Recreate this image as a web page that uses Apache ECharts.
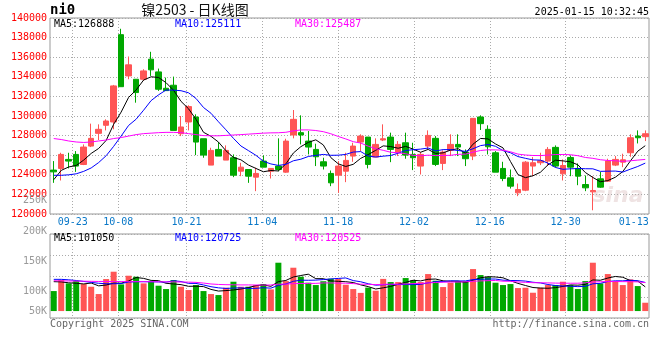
<!DOCTYPE html>
<html><head><meta charset="utf-8">
<script src="https://cdn.jsdelivr.net/npm/echarts@6/dist/echarts.min.js"></script>
<style>html,body{margin:0;padding:0;background:#fff}#c{width:660px;height:360px}</style>
</head><body><div id="c"></div>
<script>
// ---------- data ----------
const dates = ['09-18','09-19','09-20','09-23','09-24','09-25','09-26','09-27','09-30','10-08',
'10-09','10-10','10-11','10-14','10-15','10-16','10-17','10-18','10-21','10-22',
'10-23','10-24','10-25','10-28','10-29','10-30','10-31','11-01','11-04','11-05',
'11-06','11-07','11-08','11-11','11-12','11-13','11-14','11-15','11-18','11-19',
'11-20','11-21','11-22','11-25','11-26','11-27','11-28','11-29','12-02','12-03',
'12-04','12-05','12-06','12-09','12-10','12-11','12-12','12-13','12-16','12-17',
'12-18','12-19','12-20','12-23','12-24','12-25','12-26','12-27','12-30','12-31',
'01-02','01-03','01-06','01-07','01-08','01-09','01-10','01-13','01-14','01-15'];

const openP = [124480,124650,125570,126080,125050,126930,128230,129050,129390,138300,
134090,133750,133750,135800,134500,132830,133140,128190,129390,129900,
127680,124990,126590,125500,125740,124370,124540,123760,125400,124370,
124890,124270,128060,128300,127440,126590,125330,124140,123960,124370,
125910,127340,127850,125810,127550,127850,126250,127270,126080,124890,
126930,127720,125160,126490,127100,126320,125910,129900,128640,126250,
124650,123690,122160,122430,124890,125230,125400,126800,124100,125770,
124650,123010,122260,123590,123350,124990,125290,126250,127950,127890];
const closeP = [124300,126080,125400,124890,126830,127720,128640,129490,133070,132990,
135220,132390,134600,134710,132730,132590,128530,128880,130960,127340,
126010,126490,125910,126490,123960,124780,123860,124140,124780,124650,
124540,127440,129660,128060,126830,125840,124890,123180,124890,125470,
126930,127950,125060,127100,127680,126590,127100,126010,125740,126080,
128020,125060,126320,127100,126830,125640,129760,129220,126860,124270,
123620,122840,122500,125290,125230,125430,126590,124890,124950,124780,
123860,122670,122400,122740,125400,125570,125530,127780,127780,128190];
const lowP = [123180,123420,124650,124300,124990,126830,127550,128530,128640,132990,
133750,131360,133580,134090,132560,132560,128530,127950,128530,126010,
125740,124990,125910,125500,123760,123860,123180,122330,124780,123620,
124370,124200,127720,127100,126080,124890,124540,122840,122160,123250,
125330,126420,124650,125810,127440,125290,125910,125640,124480,124030,
126590,124890,124480,125910,125910,124890,125500,128570,126080,124270,
123350,122600,121820,122330,123860,124990,124890,124750,123420,123860,
122940,122330,120380,122670,123280,124890,124780,125840,127200,127440];
const highP = [125400,126250,126250,126420,127100,129220,129150,129660,133170,138900,
136070,133750,134770,136550,134840,133920,134020,130000,131090,130170,
127680,126760,127340,127000,126080,125230,124540,124720,125980,124650,
127720,127680,130610,130070,128470,127170,125740,124440,125400,126250,
127270,128130,127850,127720,129150,128300,127440,128300,127270,126320,
128530,127950,126490,128130,128130,126590,129760,130070,129050,126420,
125330,124540,123110,125400,125810,126250,126830,127000,125570,125980,
125160,123930,123860,124300,125640,125910,126150,128130,128530,128530];

const ma5 = [123500,124450,124800,124950,125500,126180,126690,127510,129150,130400,
131900,132650,133670,134000,133930,133400,132630,131490,130740,129660,
128340,127930,127340,126450,125770,125530,125000,124650,124310,124440,
124390,125110,126220,126870,127310,127570,127050,125760,125120,124850,
125070,125680,126060,126500,126950,126880,126710,126900,126620,126300,
126590,126180,126240,126520,126670,126190,127130,127710,127660,127150,
126750,125360,124020,123710,123900,124260,125010,125490,125420,125330,
125020,124230,123730,123290,123410,123750,124330,125400,126410,126970];
const ma10 = [123950,123950,124000,124100,124350,124700,125250,125950,126900,127950,
129040,129670,130590,131570,132160,132650,132640,132580,132370,131790,
130870,130280,129410,128590,127720,126940,126470,125990,125380,125110,
124960,125060,125430,125590,125870,125980,126080,125990,126000,126080,
126320,126370,125910,125810,125900,125970,126200,126480,126560,126620,
126730,126440,126570,126570,126480,126390,126660,126980,127090,126910,
126470,126250,125860,125680,125520,125500,125190,124750,124560,124610,
124640,124620,124610,124350,124370,124380,124280,124570,124850,125190];
const ma30 = [127700,127600,127450,127350,127300,127350,127450,127550,127700,127800,
127950,128100,128200,128250,128300,128330,128330,128300,128200,128100,
128000,127980,127980,128020,128060,128100,128150,128200,128250,128280,
128290,128340,128480,128580,128580,128520,128400,128190,127910,127660,
127380,127240,126920,126660,126500,126300,126250,126150,125980,125940,
126000,125960,125970,125990,126090,126110,126310,126480,126550,126540,
126510,126350,126110,126020,125970,125960,126010,126070,126070,126050,
125950,125770,125680,125540,125460,125430,125370,125430,125500,125570];

const volume = [86400,134000,119600,129600,116700,105100,73500,138300,170000,115200,
152700,148400,119600,126800,109500,95100,134000,105100,90800,112400,
86400,73500,69100,100800,126800,105100,105100,112400,116700,93600,
208900,129600,187300,148400,122500,112400,128900,139700,139000,113800,
95100,78500,101500,87800,139000,125300,125300,142600,133200,125300,
159900,131100,103700,122500,129600,129600,181500,155600,146900,122500,
112400,116700,99400,100800,79200,100800,112400,112400,126800,112400,
95100,129600,208900,119600,159900,129600,112400,136900,108000,36000];
const volMa5 = [127000,126000,122000,120000,117300,121000,108900,112600,120700,120400,
129900,144900,141200,132500,131400,119900,117000,114100,106900,107500,
105700,93600,86400,88400,91300,95100,101400,110000,113200,106600,
127300,132200,147200,153600,159300,140000,139900,130400,128500,126800,
123300,113200,105600,95300,100400,106400,115800,124000,133100,130300,
137300,138400,130600,128500,129400,123300,133400,143800,148600,147200,
143800,130800,119600,110400,101700,99400,98500,101100,106300,113000,
111800,115300,134600,133100,142600,149500,146100,131700,129400,104600];
const volMa10 = [137000,137000,135000,132000,128000,124000,120000,118000,118000,118800,
125500,126900,126900,126600,125900,124900,131000,127600,119700,119400,
112800,105300,100300,97700,99400,100400,97500,98200,100800,99000,
111200,116800,128600,133400,133000,133700,136100,138800,141000,143100,
131700,126600,118000,111900,113600,114900,114500,114800,114200,115400,
121800,127100,127300,130800,129900,130300,135900,137200,138600,138300,
133500,132100,131700,129500,124500,121600,114700,110400,108300,107300,
105600,106900,117800,119700,127800,130700,130700,133100,131200,123600];
const volMa30 = [131000,130500,130000,129500,129000,128500,128000,128000,127500,127500,
127000,127000,127000,126500,126500,126000,126000,125500,125000,124000,
121000,117000,115000,114000,113500,113000,113000,112500,112500,112400,
116500,116300,118600,119200,119400,119700,121500,121600,120500,120500,
118600,116200,115600,114300,115300,116300,116000,117300,118700,119100,
121600,123500,124600,125400,125500,126300,128800,130300,131300,132200,
129000,128600,125700,124100,122600,122200,121700,120800,120400,120300,
120300,122000,125600,126700,127400,127500,127100,126900,126100,123100];

const xTickLabels = ['09-23','10-08','10-21','11-04','11-18','12-02','12-16','12-30','01-13'];
const gridLineDates = ['09-23','10-08','10-21','11-04','11-18','12-02','12-16','12-30'];
const volTickLabels = ['250K','200K','150K','100K','50K'];
const priceMaNow = [126888,125111,125487];
const volMaNow = [101050,120725,120525];
const titleText = '镍2503 - 日K线图';
const symbolText = 'ni0';
const timeText = '2025-01-15 10:32:45';

// ---------- chart ----------
const MONO = "'DejaVu Sans Mono', 'Liberation Mono', monospace";
const RED = '#ff5555', GREEN = '#00a800';
const chart = echarts.init(document.getElementById('c'), null, {renderer: 'canvas'});

const dotted = {color: '#aaa', type: [1, 2], width: 1};
const isGridDate = (i, v) => gridLineDates.indexOf(v) >= 0;
const isLabelDate = (i, v) => xTickLabels.indexOf(v) >= 0;

function txt(x, y, text, fill, font, align, valign) {
  return {type: 'text', x: x, y: y, silent: true, z: 100,
    style: {text: text, fill: fill, font: font, textAlign: align || 'left', textVerticalAlign: valign || 'middle'}};
}
const volLabelY = [200, 231, 261, 291, 311];

const graphics = [
  txt(50, 10, symbolText, '#000', 'bold 14px ' + MONO),
  txt(195, 10, titleText, '#111', "14px 'Noto Sans CJK SC', sans-serif", 'center'),
  txt(649, 12, timeText, '#000', '10px ' + MONO, 'right'),
  txt(54, 24, 'MA5:' + priceMaNow[0], '#000', '10px ' + MONO),
  txt(175, 24, 'MA10:' + priceMaNow[1], '#0000ff', '10px ' + MONO),
  txt(295, 24, 'MA30:' + priceMaNow[2], '#ff00ff', '10px ' + MONO),
  txt(54, 238, 'MA5:' + volMaNow[0], '#000', '10px ' + MONO),
  txt(175, 238, 'MA10:' + volMaNow[1], '#0000ff', '10px ' + MONO),
  txt(295, 238, 'MA30:' + volMaNow[2], '#ff00ff', '10px ' + MONO),
  txt(50, 324, 'Copyright 2025 SINA.COM', '#666', '10px ' + MONO),
  txt(649, 324, 'http://finance.sina.com.cn', '#666', '10px ' + MONO, 'right'),
  {type: 'text', x: 618, y: 196, silent: true, z: -1,
    style: {text: 'sina', fill: '#efe3e3', font: "italic bold 22px 'DejaVu Sans', sans-serif", textAlign: 'center', textVerticalAlign: 'middle'}}
].concat(volTickLabels.map((t, i) => txt(47, volLabelY[i], t, '#999', '10px ' + MONO, 'right')));

const hiddenCat = (grid) => ({type: 'category', gridIndex: grid, data: dates, boundaryGap: true, position: 'bottom',
  axisLine: {show: false}, axisTick: {show: false}, splitLine: {show: false}, axisLabel: {show: false}});
const gridCat = (grid, labels) => ({type: 'category', gridIndex: grid, data: dates, boundaryGap: false, position: 'bottom',
  axisLine: {show: false}, axisTick: {show: false},
  splitLine: {show: true, interval: isGridDate, lineStyle: dotted},
  axisLabel: labels ? {interval: isLabelDate, color: '#0a78c8', fontFamily: MONO, fontSize: 10, margin: 3} : {show: false}});

const option = {
  animation: false,
  backgroundColor: '#fff',
  grid: [
    {left: 50, right: 11, top: 18, height: 196, show: true, borderColor: '#999', borderWidth: 1, backgroundColor: 'transparent'},
    {left: 50, right: 11, top: 234, height: 84, show: true, borderColor: '#999', borderWidth: 1, backgroundColor: 'transparent'}
  ],
  xAxis: [hiddenCat(0), hiddenCat(1), gridCat(0, true), gridCat(1, false)],
  yAxis: [
    {type: 'value', gridIndex: 0, min: 120000, max: 140000, interval: 2000,
      axisLine: {show: false}, axisTick: {show: false},
      axisLabel: {color: '#f00', fontFamily: MONO, fontSize: 10, margin: 3, formatter: v => String(v)},
      splitLine: {show: true, lineStyle: dotted}},
    {type: 'value', gridIndex: 1, min: -30000, max: 333000,
      axisLine: {show: false}, axisTick: {show: false}, axisLabel: {show: false}, splitLine: {show: false}},
    {type: 'value', gridIndex: 1, min: 0, max: 4, interval: 1, position: 'left',
      axisLine: {show: false}, axisTick: {show: false}, axisLabel: {show: false},
      splitLine: {show: true, lineStyle: dotted}}
  ],
  series: [
    {type: 'candlestick', xAxisIndex: 0, yAxisIndex: 0, barWidth: 6,
      data: dates.map((d, i) => [openP[i], closeP[i], lowP[i], highP[i]]),
      itemStyle: {color: RED, color0: GREEN, borderColor: RED, borderColor0: GREEN, borderWidth: 1}},
    {type: 'line', xAxisIndex: 0, yAxisIndex: 0, data: ma5, symbol: 'none', lineStyle: {color: '#000', width: 1}, z: 5},
    {type: 'line', xAxisIndex: 0, yAxisIndex: 0, data: ma10, symbol: 'none', lineStyle: {color: '#0000ff', width: 1}, z: 5},
    {type: 'line', xAxisIndex: 0, yAxisIndex: 0, data: ma30, symbol: 'none', lineStyle: {color: '#ff00ff', width: 1}, z: 5},
    {type: 'bar', xAxisIndex: 1, yAxisIndex: 1, barWidth: 6,
      data: volume.map((v, i) => ({value: v, itemStyle: {color: closeP[i] >= openP[i] ? RED : GREEN}}))},
    {type: 'line', xAxisIndex: 1, yAxisIndex: 1, data: volMa5, symbol: 'none', lineStyle: {color: '#000', width: 1}, z: 5},
    {type: 'line', xAxisIndex: 1, yAxisIndex: 1, data: volMa10, symbol: 'none', lineStyle: {color: '#0000ff', width: 1}, z: 5},
    {type: 'line', xAxisIndex: 1, yAxisIndex: 1, data: volMa30, symbol: 'none', lineStyle: {color: '#ff00ff', width: 1}, z: 5}
  ],
  graphic: graphics
};
chart.setOption(option);
</script>
</body></html>
